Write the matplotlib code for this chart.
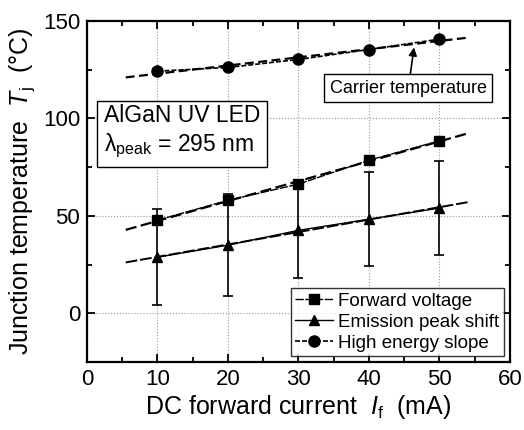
import matplotlib
matplotlib.use("Agg")
import matplotlib.pyplot as plt
import numpy as np

current = [10, 20, 30, 40, 50]
fwd_voltage = [47.8, 58.0, 66.3, 78.6, 88.5]
peak_shift = [28.8, 35.0, 42.6, 48.3, 54.0]
peak_shift_err = [24.5, 26.0, 24.5, 24.0, 24.0]
high_energy = [124.3, 126.2, 130.3, 135.4, 140.7]
fit_range = [5.5, 54]

plt.rcParams.update({
    "font.family": "Liberation Sans",
    "mathtext.fontset": "custom",
    "mathtext.rm": "Liberation Sans",
    "mathtext.it": "Liberation Sans:italic",
    "font.size": 16,
})

fig = plt.figure(figsize=(5.24, 4.30), dpi=100)
ax = fig.add_axes([0.166, 0.158, 0.807, 0.793])

xf = np.array(fit_range)


def fit_line(y, ls, lw):
    k, b = np.polyfit(current, y, 1)
    ax.plot(xf, k * xf + b, color="black", ls=ls, lw=lw, zorder=2)


ax.errorbar(current, peak_shift, yerr=peak_shift_err, fmt="none",
            ecolor="black", elinewidth=1.2, capsize=3.5, capthick=1.2, zorder=2)

fit_line(fwd_voltage, (0, (5, 2)), 1.6)
fit_line(peak_shift, (0, (6, 1.5)), 1.4)
fit_line(high_energy, (0, (4, 2)), 1.6)

ax.plot(current, fwd_voltage, color="black", marker="s", markersize=7,
        lw=1.0, ls=(0, (6, 1)), label="Forward voltage", zorder=3)
ax.plot(current, peak_shift, color="black", marker="^", markersize=7,
        lw=1.0, ls="-", label="Emission peak shift", zorder=3)
ax.plot(current, high_energy, color="black", marker="o", markersize=8,
        lw=1.2, ls=(0, (3, 1.2)), label="High energy slope", zorder=3)

ax.set_xlim(0, 60)
ax.set_ylim(-25, 150)
ax.set_xticks([0, 10, 20, 30, 40, 50, 60])
ax.set_yticks([0, 50, 100, 150])
ax.set_xticks(np.arange(5, 60, 10), minor=True)
ax.set_yticks([-25, 25, 75, 125], minor=True)
ax.tick_params(which="both", direction="in", top=True, right=True, width=1.3)
ax.tick_params(which="major", length=6, labelsize=16, pad=5)
ax.tick_params(which="minor", length=3.5)
for s in ax.spines.values():
    s.set_linewidth(1.6)
ax.grid(which="major", color="#999999", ls=":", lw=0.8)
ax.set_axisbelow(True)

ax.set_xlabel("DC forward current  $\\mathit{I}_\\mathrm{f}$  (mA)", fontsize=18, labelpad=2)
ax.set_ylabel("Junction temperature  $\\mathit{T}_\\mathrm{j}$  (°C)", fontsize=18, labelpad=4)

ax.text(2.4, 93, "AlGaN UV LED\nλ$_\\mathrm{peak}$ = 295 nm", fontsize=16.5,
        va="center", ha="left", linespacing=1.25,
        bbox=dict(boxstyle="square,pad=0.3", fc="white", ec="black", lw=1.0))

ax.annotate("Carrier temperature", xy=(46.4, 136.5), xytext=(45.6, 115.5),
            ha="center", va="center", fontsize=13,
            bbox=dict(boxstyle="square,pad=0.3", fc="white", ec="black", lw=1.0),
            arrowprops=dict(arrowstyle="-|>", color="black", lw=1.2,
                            mutation_scale=12, shrinkA=0, shrinkB=0))

leg = ax.legend(loc="lower right", fontsize=13.5, frameon=True, fancybox=False,
                edgecolor="black", handlelength=2.0, handletextpad=0.3,
                borderpad=0.25, labelspacing=0.2, borderaxespad=0.3)
leg.get_frame().set_linewidth(1.0)

fig.savefig("out.png", dpi=100)
